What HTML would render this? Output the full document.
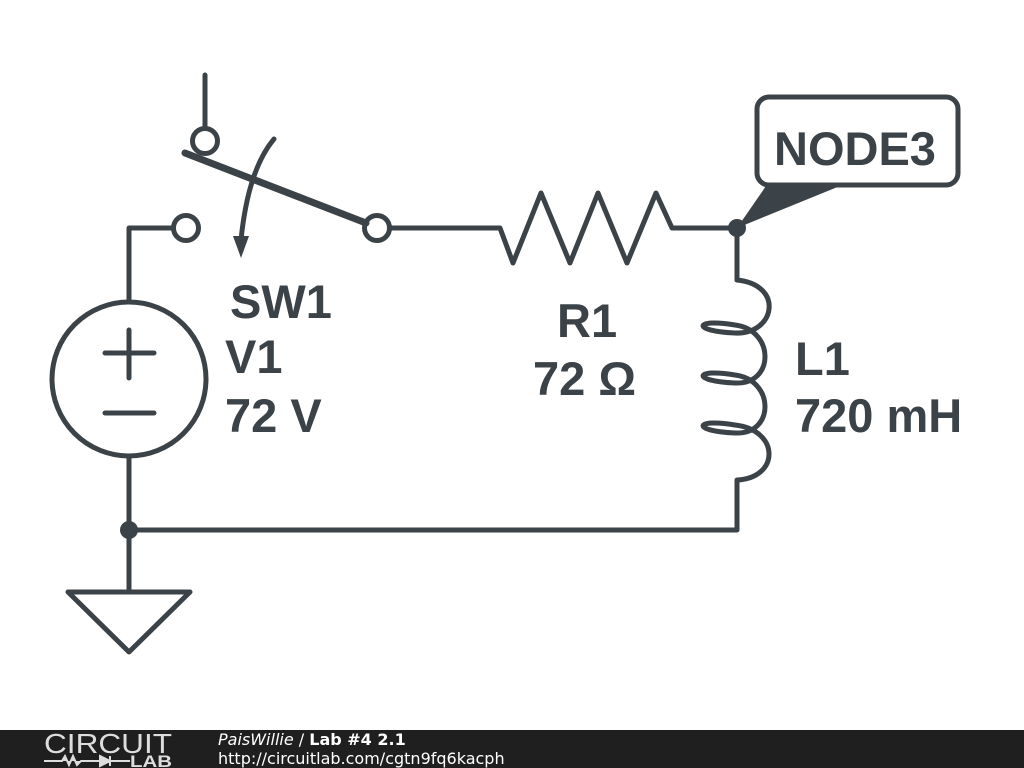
<!DOCTYPE html>
<html><head><meta charset="utf-8"><style>
html,body{margin:0;padding:0;background:#fff;width:1024px;height:768px;overflow:hidden;font-family:"Liberation Sans",sans-serif}
svg{position:absolute;left:0;top:0}
</style></head><body>
<svg width="1024" height="768" viewBox="0 0 1024 768">
<g fill="none" stroke="#3b4348" stroke-width="5" stroke-linecap="round" stroke-linejoin="round">
<path d="M205,75 V128"/>
<circle cx="205" cy="141" r="12.5"/>
<circle cx="186" cy="228" r="12.5"/>
<circle cx="377" cy="228" r="12.5"/>
<path d="M185,153 L366,223" stroke-width="7"/>
<path d="M274,139 Q248,170 241,240"/>
<path d="M390,228 H500 L513,263 L541,193 L570,263 L598,193 L627,263 L656,193 L672,228 H737 V280"/>
<path d="M737,280 C785,285 775,335 735,333 C690,331 695,318 735,325 C775,330 775,385 735,383 C690,381 695,368 735,375 C775,380 775,435 735,433 C690,431 695,418 735,425 C780,430 780,478 737,480 V530 H129"/>
<path d="M173,228 H129 V302"/>
<circle cx="129" cy="379" r="77"/>
<path d="M105,353 H154 M129,330 V378 M105,413 H154"/>
<path d="M129,456 V592"/>
<path d="M68,592 H190 L129,652 Z"/>
<rect x="757" y="97" width="201" height="88" rx="12"/>
</g>
<path d="M233,236 L241,258 L249,236 Z" fill="#3b4348"/>
<circle cx="737" cy="228" r="9" fill="#3b4348"/>
<circle cx="129" cy="530" r="9" fill="#3b4348"/>
<path d="M737,228 L766,186 L840,186 Z" fill="#3b4348"/>
<g fill="#3b4348" font-family="Liberation Sans,sans-serif" font-weight="bold" font-size="47">
<text x="230" y="318">SW1</text>
<text x="225" y="373">V1</text>
<text x="225" y="432">72 V</text>
<text x="557" y="337">R1</text>
<text x="533" y="395">72 Ω</text>
<text x="795" y="375">L1</text>
<text x="795" y="432">720 mH</text>
<text x="774" y="165" font-size="47">NODE3</text>
</g>
<rect x="0" y="730" width="1024" height="38" fill="#1f1f1f"/>
<text x="44" y="753" fill="#ddd" font-size="28" textLength="128" lengthAdjust="spacingAndGlyphs" font-family="Liberation Sans,sans-serif">CIRCUIT</text>
<path d="M44,761 H62 L65,756 L69,765 L73,756 L77,765 L81,761 H100 M100,756 V766 L110,761 Z M110,756 V766 M110,761 H130" stroke="#ddd" stroke-width="2" fill="#ddd"/>
<text x="130" y="767" fill="#ddd" font-size="17" font-weight="bold" textLength="42" lengthAdjust="spacingAndGlyphs" font-family="Liberation Sans,sans-serif">LAB</text>
<text x="218" y="745" fill="#fff" font-size="16" font-family="DejaVu Sans,sans-serif"><tspan font-style="italic">PaisWillie</tspan> / <tspan font-weight="bold">Lab #4 2.1</tspan></text>
<text x="218" y="764" fill="#fff" font-size="16" font-family="DejaVu Sans,sans-serif">http://circuitlab.com/cgtn9fq6kacph</text>
</svg>
</body></html>
